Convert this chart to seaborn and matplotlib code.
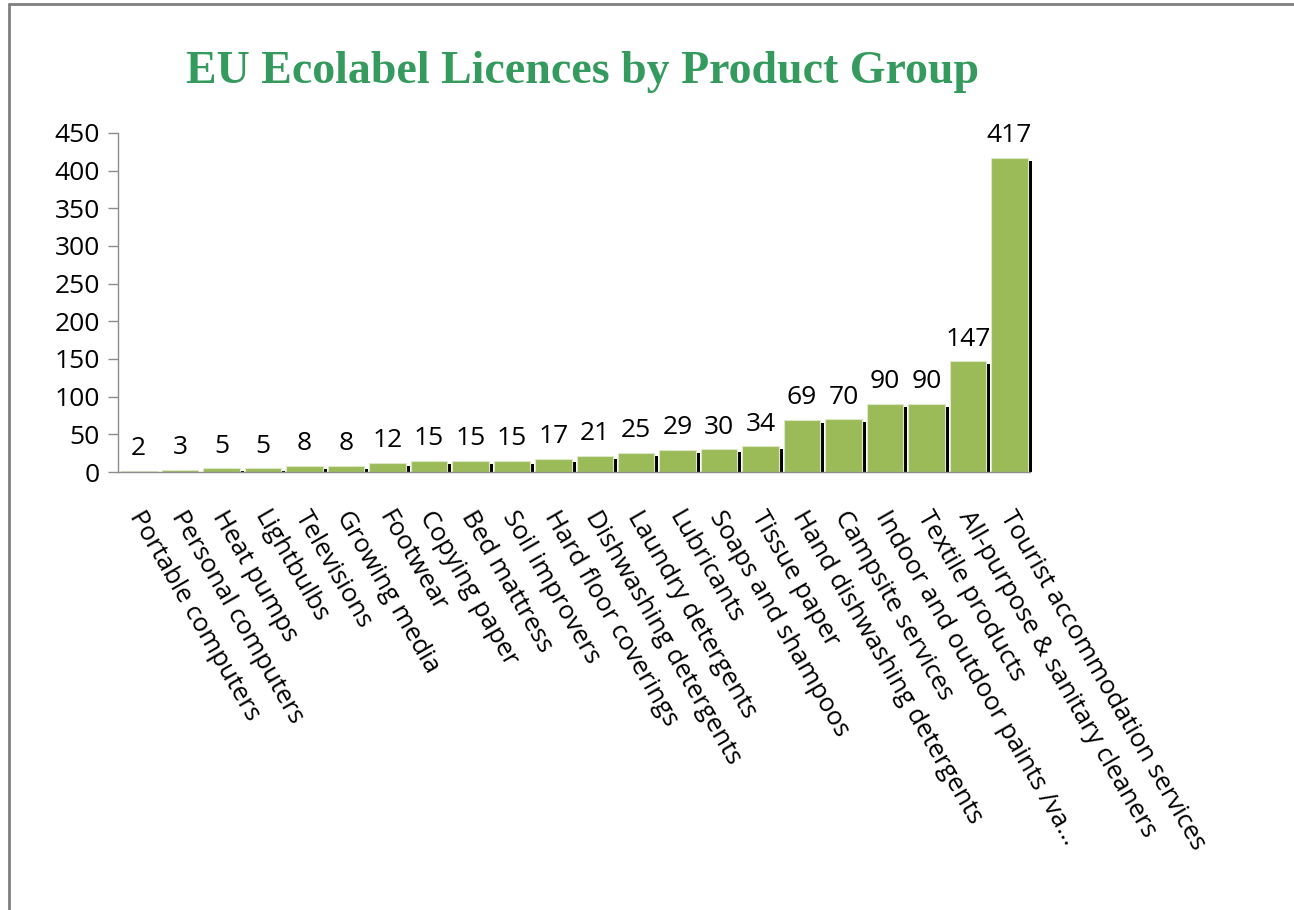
import matplotlib
matplotlib.use("Agg")
import matplotlib.pyplot as plt
import matplotlib.transforms as mtransforms
from matplotlib.lines import Line2D
from matplotlib.patches import Rectangle
import numpy as np
import pandas as pd
import seaborn as sns

# Data
categories = [
    "Portable computers", "Personal computers", "Heat pumps", "Lightbulbs",
    "Televisions", "Growing media", "Footwear", "Copying paper",
    "Bed mattress", "Soil improvers", "Hard floor coverings",
    "Dishwashing detergents", "Laundry detergents", "Lubricants",
    "Soaps and shampoos", "Tissue paper", "Hand dishwashing detergents",
    "Campsite services", "Indoor and outdoor paints /va\u2026",
    "Textile products", "All-purpose & sanitary cleaners",
    "Tourist accommodation services",
]
licences = [2, 3, 5, 5, 8, 8, 12, 15, 15, 15, 17, 21, 25, 29, 30, 34,
            69, 70, 90, 90, 147, 417]
y_ticks = [0, 50, 100, 150, 200, 250, 300, 350, 400, 450]

BAR_GREEN = "#9BBB59"
TITLE_GREEN = "#349A5E"
AXIS_GRAY = "#8C8C8C"

sns.set_theme(style="white")
plt.rcParams["font.family"] = ["Open Sans", "DejaVu Sans"]

df = pd.DataFrame({"group": categories, "licences": licences})

fig = plt.figure(figsize=(12.94, 9.10), dpi=100)
ax = fig.add_axes([0.0912, 0.4813, 0.7048, 0.3726])

sns.barplot(data=df, x="group", y="licences", color=BAR_GREEN, width=0.88,
            saturation=1, edgecolor="#DCE8C6", linewidth=0.8, ax=ax, zorder=3)

ax.set_xlim(-0.5, len(categories) - 0.5)
ax.set_ylim(0, 450)

# black drop shadow on the right of each bar, top a little lower
shift = mtransforms.ScaledTranslation(4 / 100, 0, fig.dpi_scale_trans)
for p in list(ax.patches):
    h = max(p.get_height() - 4, 0)
    shadow = Rectangle((p.get_x(), 0), p.get_width(), h,
                       facecolor="black", edgecolor="none", zorder=2,
                       transform=ax.transData + shift, clip_on=False)
    ax.add_patch(shadow)

for i, v in enumerate(licences):
    ax.annotate(f"{v}", xy=(i, v), xytext=(0, 7), textcoords="offset points",
                ha="center", va="bottom", fontsize=19, color="black")

ax.set_yticks(y_ticks)
ax.set_xlabel("")
ax.set_ylabel("")

ax.set_xticks(range(len(categories)))
ax.set_xticklabels(categories, rotation=-60, ha="left", va="top",
                   rotation_mode="anchor", fontsize=18.5)
ax.set_xticks(np.arange(-0.5, len(categories), 1.0), minor=True)
ax.tick_params(axis="x", which="major", length=0, pad=25, labelcolor="black")
ax.tick_params(axis="x", which="minor", length=7, color=AXIS_GRAY,
               width=1, direction="out")
ax.tick_params(axis="y", labelsize=19, length=7, color=AXIS_GRAY, width=1,
               direction="out", left=True, pad=6, labelcolor="black")

label_shift = mtransforms.ScaledTranslation(7 / 100, 0, fig.dpi_scale_trans)
for lbl in ax.get_xticklabels():
    lbl.set_transform(lbl.get_transform() + label_shift)

for side in ["top", "right"]:
    ax.spines[side].set_visible(False)
for side in ["left", "bottom"]:
    ax.spines[side].set_color(AXIS_GRAY)
    ax.spines[side].set_linewidth(1)
    ax.spines[side].set_zorder(4)
ax.grid(False)

fig.text(0.45, 0.921, "EU Ecolabel Licences by Product Group",
         family=["Liberation Serif", "DejaVu Serif"], fontweight="bold",
         fontsize=33, color=TITLE_GREEN, ha="center", va="center")

# slide frame (left and top edges only)
fig.add_artist(Line2D([0.0066, 0.0066], [0, 0.9956], color="#808080", lw=2))
fig.add_artist(Line2D([0.0066, 1], [0.9956, 0.9956], color="#808080", lw=2))

fig.savefig("out.png", dpi=100)
plt.close(fig)
